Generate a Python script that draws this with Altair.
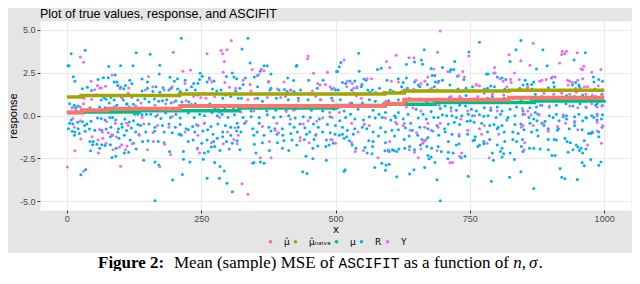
import altair as alt
import pandas as pd

# ---------------- data ----------------
series_labels = ["\u03bc\u0302", "\u03bc\u0302\u2099\u2090\u1d62\u1d65\u2091", "\u03bc", "R", "Y"]
series_colors = ["#F8766D", "#A3A500", "#00BF7D", "#00B0F6", "#E76BF3"]

# step lines (break points)
mu_hat_x = [0, 28, 76, 211, 592, 628, 823, 1000]
mu_hat_y = [0.17, 0.30, 0.39, 0.56, 0.68, 0.92, 1.04, 1.04]
naive_x = [0, 28, 210, 592, 628, 823, 1000]
naive_y = [1.07, 1.17, 1.25, 1.31, 1.42, 1.47, 1.47]
mu_x = [0, 30, 135, 320, 500, 590, 686, 870, 1000]
mu_y = [0.17, 0.20, 0.27, 0.43, 0.58, 0.66, 0.75, 0.85, 0.90]

# R (blue) points
r_points = [
(8,3.6),(34,3.8),(2,2.9),(4,2.9),(78,2.85),(100,2.9),(129,3.65),(123,2.9),(90,2.35),(12,2.25),(15,2.0),(58,2.1),(68,2.2),(77,2.2),(29,1.55),(38,1.65),(46,1.45),(88,1.95),(93,1.95),(95,1.75),(100,1.65),(106,1.55),(109,1.75),(117,2.05),(121,1.85),(56,1.2),(64,0.9),(69,1.05),(73,0.95),(82,1.05),(88,0.9),(102,1.05),(105,0.9),(111,0.65),(116,0.5),(124,0.65),(132,0.9),(5,0.68),(14,0.6),(17,0.45),(10,0.45),(21,0.55),(43,0.45),(52,0.2),(61,0.5),(71,0.45),(79,0.73),(88,0.5),(93,0.6),(112,0.68),(126,0.07),(132,0.07),(8,-0.26),(5,-0.45),(11,-0.49),(20,-0.4),(29,-0.36),(37,-0.49),(45,-0.34),(57,-0.15),(64,-0.17),(71,-0.26),(80,-0.11),(85,-0.11),(91,-0.26),(102,-0.49),(108,-0.21),(116,-0.38),(124,-0.3),(132,-0.53),(3,-0.77),(10,-0.92),(15,-0.96),(21,-0.77),(33,-0.58),(34,-0.92),(42,-0.79),(52,-0.86),(65,-0.86),(73,-0.79),(82,-0.68),(96,-0.77),(103,-0.68),(111,-0.88),(120,-0.73),(128,-0.96),(134,-1.1),(14,-1.15),(23,-1.05),(43,-1.52),(48,-1.7),(49,-1.52),(56,-1.67),(65,-1.7),(81,-1.24),(85,-1.15),(95,-0.96),(97,-1.33),(107,-1.15),(118,-1.43),(124,-1.62),(44,-2.05),(61,-1.9),(71,-1.75),(81,-1.7),(92,-1.9),(107,-2.18),(115,-2.14),(129,-1.95),(84,-2.44),(91,-2.37),(35,-3.15),(26,-3.45),
(213,4.5),(155,3.57),(173,2.93),(172,2.42),(140,2.12),(150,1.95),(192,2.22),(200,1.99),(206,2.14),(220,2.05),(248,2.46),(252,2.29),(247,2.1),(244,1.86),(261,1.95),(265,2.18),(274,2.01),(297,2.27),(308,2.48),(311,2.24),(316,2.14),(140,1.43),(150,1.58),(160,1.39),(166,1.67),(173,1.35),(179,1.62),(190,1.48),(194,1.58),(206,1.54),(211,1.39),(223,1.48),(232,1.67),(236,1.86),(239,1.48),(243,1.2),(256,1.3),(271,1.54),(279,1.43),(287,1.48),(290,1.01),(296,1.2),(305,1.11),(314,1.43),(319,1.01),(145,0.98),(153,0.79),(163,0.96),(171,0.83),(178,0.86),(186,0.92),(194,0.73),(203,0.86),(214,0.79),(227,0.79),(232,0.64),(239,0.68),(247,0.6),(266,0.68),(275,0.45),(284,0.21),(294,0.45),(310,0.45),(140,0.04),(148,0.08),(156,0.08),(166,-0.04),(175,-0.17),(184,0.15),(193,-0.11),(203,0.08),(211,-0.15),(226,0.15),(237,-0.11),(247,0.08),(256,-0.02),(270,0.17),(280,-0.02),(289,0.08),(300,-0.11),(312,0.04),(137,-0.58),(153,-0.49),(164,-0.68),(178,-0.58),(190,-0.49),(202,-0.68),(211,-0.53),(222,-0.77),(234,-0.64),(244,-0.58),(256,-0.45),(268,-0.64),(281,-0.49),(295,-0.58),(305,-0.68),(317,-0.45),(147,-0.96),(163,-0.92),(181,-0.96),(196,-1.01),(211,-1.09),(226,-0.83),(238,-0.96),(253,-0.9),(262,-0.83),(272,-1.09),(290,-0.96),(305,-1.15),(316,-0.9),(141,-1.52),(151,-1.47),(170,-1.52),(181,-1.58),(209,-1.09),(213,-1.15),(226,-1.52),(235,-1.43),(251,-1.62),(261,-1.43),(273,-1.52),(280,-1.33),(290,-1.24),(297,-1.52),(308,-1.62),(317,-1.47),(191,-2.09),(217,-2.09),(243,-1.9),(256,-2.18),(263,-2.09),(269,-1.84),(275,-1.8),(285,-2.03),(302,-1.95),(143,-2.6),(164,-2.7),(171,-2.88),(217,-2.55),(229,-2.7),(254,-2.55),(275,-2.74),(285,-2.97),(293,-3.23),(215,-3.44),(197,-3.76),(261,-3.65),(284,-3.65),(298,-3.95),(308,-4.44),(164,-4.96),
(337,4.5),(326,3.87),(427,2.86),(428,2.93),(341,3.05),(367,2.9),(373,2.9),(360,2.58),(380,2.42),(332,2.18),(328,1.8),(349,2.24),(355,2.33),(375,1.95),(411,2.18),(422,2.03),(450,2.05),(477,2.05),(502,2.56),(322,1.58),(355,1.67),(380,1.58),(378,1.48),(395,1.48),(405,1.52),(410,1.39),(417,1.48),(423,1.39),(435,1.48),(466,1.58),(493,1.54),(500,1.48),(325,1.01),(355,1.01),(364,0.83),(390,1.01),(412,0.92),(431,1.01),(449,0.92),(472,0.92),(493,1.01),(322,0.36),(343,0.26),(360,0.41),(372,0.26),(389,0.3),(408,0.3),(425,0.36),(455,0.3),(476,0.26),(497,0.36),(328,-0.11),(343,-0.08),(358,-0.11),(373,0.04),(385,-0.11),(398,-0.08),(413,-0.02),(425,-0.15),(440,-0.08),(453,-0.11),(470,-0.21),(490,-0.08),(319,-0.68),(331,-0.45),(346,-0.77),(358,-0.45),(376,-0.68),(387,-0.77),(401,-0.77),(415,-0.49),(423,-0.68),(434,-0.49),(443,-0.71),(459,-0.49),(468,-0.68),(485,-0.53),(500,-0.58),(324,-0.96),(348,-1.15),(354,-0.96),(367,-1.15),(380,-0.9),(391,-1.09),(402,-1.15),(417,-1.05),(429,-0.96),(446,-1.09),(452,-0.96),(463,-1.15),(476,-0.96),(490,-1.01),(499,-1.09),(349,-1.67),(364,-1.58),(392,-1.58),(404,-1.47),(419,-1.43),(428,-1.71),(442,-1.39),(460,-1.39),(483,-1.43),(496,-1.62),(322,-1.99),(352,-2.18),(377,-2.03),(401,-1.9),(413,-2.03),(458,-1.9),(467,-1.77),(482,-1.8),(488,-1.71),(348,-2.74),(346,-2.78),(360,-2.7),(367,-2.78),(445,-2.37),(458,-2.52),(483,-2.6),(439,-3.27),(447,-3.38),
(543,3.63),(665,3.83),(660,3.23),(647,3.12),(510,3.08),(507,2.84),(504,2.56),(544,2.58),(578,2.67),(585,2.75),(632,2.99),(662,2.99),(678,2.74),(680,2.33),(536,2.01),(553,2.12),(557,2.05),(549,1.8),(540,1.62),(513,1.92),(527,2.01),(519,1.86),(596,2.05),(617,2.14),(626,1.92),(623,1.67),(632,2.18),(647,1.95),(654,1.77),(671,1.8),(685,2.33),(505,1.48),(530,1.48),(548,1.67),(560,1.48),(564,1.35),(569,1.48),(582,1.58),(602,1.48),(608,1.39),(628,1.48),(634,1.58),(645,1.39),(657,1.67),(675,1.48),(684,1.67),(509,0.92),(530,0.73),(550,0.73),(563,0.92),(574,0.83),(587,0.6),(599,0.86),(617,0.92),(632,0.73),(657,0.96),(671,0.73),(681,0.86),(505,0.45),(516,0.26),(528,0.08),(542,0.36),(570,0.3),(581,0.08),(593,0.17),(610,-0.02),(617,0.17),(635,0.08),(650,0.36),(663,0.08),(678,0.23),(508,-0.3),(519,-0.11),(536,-0.21),(552,-0.26),(563,-0.08),(574,-0.15),(587,-0.11),(603,-0.26),(612,-0.11),(626,-0.21),(640,-0.45),(654,-0.15),(669,-0.21),(683,-0.11),(513,-0.68),(522,-0.86),(536,-0.77),(550,-0.68),(558,-0.77),(570,-0.96),(584,-0.71),(593,-0.96),(605,-0.86),(617,-0.83),(630,-0.71),(643,-0.86),(657,-0.68),(672,-0.77),(681,-0.9),(507,-1.15),(513,-1.09),(521,-1.24),(533,-1.09),(526,-1.47),(516,-1.33),(562,-1.47),(570,-1.52),(580,-1.2),(593,-1.58),(610,-1.2),(628,-1.39),(637,-1.2),(653,-1.15),(661,-1.39),(672,-1.28),(531,-1.71),(538,-1.9),(555,-1.86),(569,-1.8),(592,-2.05),(598,-2.03),(606,-1.99),(614,-2.09),(629,-1.9),(638,-1.8),(647,-1.99),(658,-1.71),(670,-1.8),(679,-1.9),(559,-2.18),(568,-2.22),(600,-2.09),(609,-2.03),(618,-1.95),(672,-2.33),(678,-2.41),(685,-2.74),(666,-3.03),(674,-2.52),(586,-2.78),(594,-2.88),(593,-3.18),(600,-2.84),(573,-3.03),(614,-3.57),(638,-3.4),(646,-3.16),(518,-3.16),(516,-3.25),
(768,4.27),(845,4.36),(748,3.7),(836,3.82),(825,3.14),(722,3.14),(699,2.8),(715,2.67),(720,2.67),(713,2.56),(784,2.42),(781,2.41),(795,2.48),(699,2.05),(686,1.95),(692,1.99),(727,2.29),(739,2.09),(801,2.24),(810,2.18),(817,2.1),(849,1.77),(853,2.05),(865,1.8),(857,1.82),(689,1.48),(713,1.77),(728,1.54),(743,1.58),(755,1.67),(777,1.54),(783,1.58),(789,1.71),(796,1.67),(815,1.54),(843,1.58),(866,1.54),(692,0.96),(701,0.83),(712,1.05),(722,0.92),(734,1.01),(743,1.17),(751,0.92),(770,0.83),(783,1.01),(792,1.11),(814,1.01),(831,1.01),(845,0.86),(864,0.92),(695,0.41),(704,0.55),(715,0.45),(725,0.3),(731,0.6),(742,0.55),(753,0.36),(762,0.26),(777,0.45),(789,0.3),(801,0.49),(810,0.26),(825,0.36),(837,0.49),(849,0.26),(862,0.45),(691,-0.11),(699,0.04),(707,-0.02),(717,-0.02),(725,-0.11),(735,-0.02),(747,0.08),(755,-0.02),(768,0.04),(776,-0.04),(784,-0.02),(799,-0.11),(807,0.08),(821,-0.11),(834,-0.02),(849,0.08),(860,-0.11),(689,-0.58),(703,-0.77),(710,-0.49),(721,-0.4),(731,-0.53),(745,-0.34),(751,-0.3),(758,-0.4),(772,-0.45),(787,-0.58),(795,-0.53),(803,-0.68),(810,-0.58),(819,-0.26),(834,-0.53),(845,-0.49),(862,-0.45),(692,-1.15),(704,-0.96),(717,-1.09),(730,-1.2),(746,-1.09),(760,-1.24),(783,-0.96),(801,-0.77),(814,-0.96),(830,-0.96),(840,-1.05),(851,-0.83),(865,-0.96),(710,-1.52),(725,-1.71),(730,-1.65),(756,-1.47),(759,-1.43),(768,-1.71),(776,-1.52),(787,-1.39),(801,-1.71),(815,-1.52),(830,-1.39),(837,-1.52),(848,-1.39),(691,-1.8),(697,-2.09),(710,-2.14),(719,-2.18),(734,-2.46),(741,-2.37),(765,-1.8),(776,-1.65),(792,-2.18),(807,-2.09),(810,-1.9),(813,-2.22),(825,-2.18),(810,-2.41),(846,-1.8),(849,-2.09),(861,-1.9),(709,-2.52),(794,-2.6),(833,-2.56),(689,-3.74),(747,-3.53),(790,-3.82),(824,-3.59),(845,-3.27),(869,-4.25),(695,-4.96),
(886,3.83),(965,3.65),(944,3.23),(894,2.9),(874,2.71),(869,1.95),(902,2.18),(907,1.67),(941,1.77),(947,1.92),(953,1.77),(980,2.24),(981,1.95),(990,2.1),(997,1.99),(906,1.92),(954,1.67),(997,1.48),(983,1.54),(896,1.62),(918,1.43),(872,1.24),(884,1.11),(900,1.01),(915,1.05),(930,1.17),(945,1.11),(960,1.2),(984,1.11),(996,1.24),(874,0.49),(884,0.6),(898,0.49),(911,0.6),(929,0.68),(942,0.55),(955,0.68),(966,0.49),(984,0.6),(996,0.55),(987,0.68),(872,0.17),(877,0.08),(898,-0.02),(911,0.08),(924,-0.08),(930,-0.02),(945,-0.08),(953,0.08),(966,-0.11),(977,-0.02),(987,0.08),(997,0.04),(869,-0.21),(875,-0.3),(884,-0.45),(890,-0.34),(905,-0.11),(916,-0.3),(930,-0.21),(945,-0.4),(960,-0.3),(967,-0.15),(981,-0.11),(987,-0.26),(995,-0.21),(875,-0.86),(888,-0.58),(896,-0.77),(913,-0.86),(915,-0.77),(935,-0.77),(945,-0.58),(959,-0.83),(971,-1.05),(978,-0.96),(990,-0.96),(996,-0.68),(877,-1.2),(896,-1.39),(907,-1.39),(911,-1.43),(927,-1.33),(931,-1.52),(937,-1.58),(948,-1.71),(963,-1.47),(975,-1.05),(978,-1.01),(990,-1.24),(869,-1.9),(881,-1.95),(896,-1.99),(903,-2.33),(909,-2.33),(933,-2.14),(942,-1.99),(951,-1.84),(954,-2.03),(960,-2.18),(966,-1.95),(957,-1.9),(975,-2.56),(994,-2.7),(990,-2.9),(959,-2.74),(963,-2.93),(918,-3.08),(921,-3.59),(927,-3.68),(950,-3.72),
]

# Y (pink) points
y_points = [
(25,3.4),(31,3.1),(84,2.35),(45,2.0),(52,1.5),(61,1.6),(57,1.75),(64,1.6),(72,1.7),(99,1.55),(115,1.6),(24,1.15),(32,1.0),(37,1.15),(46,0.95),(103,1.05),(114,1.3),(121,1.05),(128,0.55),(12,0.45),(17,0.3),(25,0.5),(31,0.68),(92,0.4),(96,0.25),(11,-0.17),(25,-0.3),(74,-0.36),(90,-0.45),(111,-0.43),(114,-0.58),(14,-0.68),(61,-0.81),(66,-0.96),(77,-1.0),(84,-1.1),(26,-1.37),(47,-1.24),(58,-1.43),(67,-1.33),(73,-1.62),(92,-1.24),(102,-1.7),(112,-1.77),(122,-1.65),(15,-2.05),(59,-2.18),(86,-2.0),(98,-1.84),(109,-2.0),(1,-3.0),(31,-3.25),(100,-2.95),
(198,3.68),(306,4.36),(298,3.83),(287,3.78),(290,3.6),(261,3.6),(293,3.14),(216,2.58),(230,2.65),(152,2.27),(266,2.09),(270,1.95),(291,2.52),(294,1.92),(303,1.64),(314,1.58),(146,1.48),(160,1.67),(181,1.48),(196,1.67),(220,1.86),(236,1.11),(249,1.05),(259,1.01),(275,1.11),(138,0.73),(164,0.6),(184,0.68),(199,0.79),(222,0.86),(281,0.45),(306,0.26),(140,-0.11),(169,0.04),(196,-0.06),(284,-0.11),(143,-0.49),(169,-0.58),(190,-0.68),(241,-0.53),(256,-0.45),(313,-0.71),(135,-1.15),(160,-1.01),(220,-0.96),(244,-1.15),(299,-0.96),(161,-1.52),(182,-1.67),(269,-1.58),(291,-1.65),(311,-1.39),(317,-1.65),(150,-2.0),(193,-2.27),(243,-1.95),(247,-2.18),(173,-2.97),
(448,3.3),(449,3.46),(345,2.67),(362,2.71),(367,2.61),(357,2.37),(459,2.46),(485,2.52),(328,2.05),(341,1.8),(376,1.99),(404,1.95),(467,1.86),(471,1.77),(481,1.8),(490,1.67),(343,1.43),(392,1.54),(416,1.48),(457,1.43),(497,1.58),(337,0.92),(350,0.98),(373,1.05),(398,1.05),(407,1.11),(431,0.86),(463,1.11),(473,0.92),(495,0.86),(324,0.21),(348,0.26),(408,0.23),(422,0.3),(489,0.17),(334,-0.34),(364,-0.64),(391,-0.45),(416,-0.21),(440,-0.49),(449,-0.3),(465,-0.34),(476,-0.15),(494,-0.11),(319,-1.15),(388,-0.86),(394,-1.01),(434,-1.28),(464,-1.09),(491,-1.39),(377,-1.52),(434,-1.47),(451,-1.58),(494,-1.43),(500,-1.62),(360,-2.46),(380,-2.46),(326,-3.97),(337,-4.59),
(613,3.5),(637,3.36),(646,3.36),(595,3.14),(601,2.8),(516,3.23),(683,2.71),(522,1.99),(531,1.86),(559,2.14),(567,2.14),(534,1.58),(540,1.67),(521,1.67),(604,1.99),(617,1.95),(659,1.86),(666,1.99),(650,2.05),(672,2.24),(519,1.24),(534,1.33),(539,1.15),(548,1.01),(575,1.35),(590,1.35),(623,1.39),(646,1.54),(679,1.58),(527,0.73),(584,0.6),(594,0.83),(638,1.01),(667,0.86),(507,0.17),(632,0.49),(644,0.45),(659,0.26),(530,-0.45),(554,-0.49),(593,-0.15),(612,-0.4),(628,-0.45),(672,-0.45),(553,-0.53),(563,-0.58),(542,-0.96),(614,-0.49),(626,-0.58),(639,-0.86),(651,-1.01),(666,-0.68),(678,-0.86),(530,-1.58),(663,-1.58),(666,-1.47),(669,-1.39),(601,-1.52),(537,-2.09),(552,-2.03),(599,-1.99),(637,-1.99),(647,-2.14),(659,-1.95),(662,-1.62),(579,-2.46),(654,-2.46),
(695,4.92),(868,4.21),(690,3.68),(748,3.46),(823,3.53),(845,3.18),(709,2.56),(737,2.56),(796,2.8),(797,2.48),(833,2.48),(862,2.93),(691,1.9),(729,2.33),(740,2.24),(762,1.8),(768,1.73),(806,2.14),(812,1.99),(826,2.1),(827,1.92),(842,2.1),(857,1.58),(715,1.11),(762,1.77),(779,1.48),(819,1.67),(849,1.48),(858,1.67),(731,1.11),(765,1.11),(777,1.3),(792,1.24),(813,1.2),(693,0.6),(715,0.26),(746,0.26),(789,0.45),(801,0.26),(848,0.41),(858,0.26),(695,-0.45),(733,-0.21),(759,-0.02),(852,0.08),(864,0.04),(691,-0.68),(746,-0.86),(768,-0.77),(777,-0.58),(849,-0.58),(868,-0.58),(730,-1.09),(772,-1.09),(804,-1.09),(846,-0.68),(782,-1.62),(852,-1.58),(689,-2.03),(735,-2.18),(786,-2.46),(851,-1.99),(713,-2.74),(718,-2.74),(731,-2.37),
(922,3.74),(927,3.6),(921,3.55),(950,3.65),(930,3.74),(917,3.05),(957,2.71),(962,2.86),(960,2.67),(977,2.52),(994,2.67),(880,1.99),(884,2.05),(892,2.1),(904,2.24),(909,2.24),(932,2.05),(936,1.99),(941,1.92),(951,2.05),(960,2.14),(947,1.58),(956,1.58),(933,1.77),(963,1.67),(969,1.67),(989,1.73),(888,1.3),(906,1.24),(921,1.3),(936,1.24),(948,1.35),(966,1.24),(978,1.2),(996,1.17),(881,0.6),(898,0.55),(936,0.55),(951,0.45),(967,0.45),(977,0.68),(987,0.49),(997,0.6),(879,0.04),(924,0.04),(987,-0.02),(887,-0.49),(913,-0.64),(928,-0.45),(945,-0.34),(987,-0.4),(997,-0.58),(896,-0.92),(951,-0.83),(987,-0.9),(997,-0.64),(995,-1.62),(969,-1.71),
]

x_ticks = [0, 250, 500, 750, 1000]
y_ticks = [-5.0, -2.5, 0.0, 2.5, 5.0]

# ---------------- build tables ----------------
pts = pd.DataFrame(
    [{"x": a, "y": b, "series": "R"} for a, b in r_points]
    + [{"x": a, "y": b, "series": "Y"} for a, b in y_points]
)
mu_hat_df = pd.DataFrame({"x": mu_hat_x, "y": mu_hat_y})
naive_df = pd.DataFrame({"x": naive_x, "y": naive_y})
mu_df = pd.DataFrame({"x": mu_x, "y": mu_y})
one = pd.DataFrame({"k": [0]})

W, H = 591, 189
xs = alt.Scale(domain=[-50, 1050], nice=False, zero=False)
ys = alt.Scale(domain=[-5.5, 5.5], nice=False, zero=False)

x_enc = alt.X("x:Q", scale=xs, title="x",
              axis=alt.Axis(values=x_ticks, format="d"))
y_enc = alt.Y("y:Q", scale=ys, title="response",
              axis=alt.Axis(values=y_ticks,
                            labelExpr="replace(format(datum.value, '.1f'), '\u2212', '-')"))


def step_line(df, color, width=3.5):
    return alt.Chart(df).mark_line(
        interpolate="step-after", strokeWidth=width, color=color, strokeCap="butt"
    ).encode(x=x_enc, y=y_enc)


points = alt.Chart(pts).mark_circle(size=9, opacity=1).encode(
    x=x_enc,
    y=y_enc,
    color=alt.Color(
        "series:N",
        scale=alt.Scale(domain=series_labels, range=series_colors),
        legend=alt.Legend(
            orient="none", legendX=226, legendY=216, direction="horizontal",
            title=None, symbolType="circle", symbolSize=13,
            labelFontSize=9, labelFont="DejaVu Sans", labelColor="black",
            labelOffset=9, columnPadding=1, labelLimit=0,
        ),
    ),
    order=alt.Order("series:N"),
)

# lines drawn over the points, as in the reference
lines = [
    step_line(mu_df, series_colors[2]),
    step_line(naive_df, series_colors[1]),
    step_line(mu_hat_df, series_colors[0], 4),
]

# caption band (white) below the grey plot background
band = alt.Chart(one).mark_rect(color="white").encode(
    x=alt.value(-45), x2=alt.value(650), y=alt.value(232), y2=alt.value(320)
)


def cap(text, page_x, font="Liberation Serif", size=17, weight="normal", style="normal"):
    return alt.Chart(one).mark_text(
        text=text, align="left", baseline="alphabetic", font=font,
        fontSize=size, fontWeight=weight, fontStyle=style, color="black"
    ).encode(x=alt.value(page_x - 40), y=alt.value(247))


caption = [
    cap("Figure 2:", 98, weight="bold"),
    cap("Mean (sample) MSE of", 174),
    cap("ASCIFIT", 338.5, font="Liberation Mono", size=14.5),
    cap("as a function of", 403.7),
    cap("n", 513.3, style="italic"),
    cap(",", 521.8),
    cap("\u03c3", 529, style="italic"),
    cap(".", 538.5),
]

chart = alt.layer(points, *lines, band, *caption).properties(
    width=W, height=H,
    autosize=alt.AutoSizeParams(type="none"),
    padding={"left": 32, "top": 13, "right": 1, "bottom": 61},
    background="#E5E5E5",
    title=alt.TitleParams(
        "Plot of true values, response, and ASCIFIT",
        anchor="start", frame="group", fontSize=12.5, font="Liberation Sans",
        fontWeight="normal", color="black", offset=1,
    ),
).configure_view(
    fill="white", stroke="transparent"
).configure_axis(
    domain=False, tickColor="#333333", tickSize=3, tickWidth=1,
    gridColor="#EBEBEB", gridWidth=1.1,
    labelFont="Liberation Sans", labelFontSize=9, labelColor="#4D4D4D",
    titleFont="Liberation Sans", titleFontSize=11, titleColor="black",
    titleFontWeight="normal",
).configure_axisX(
    labelPadding=1, titlePadding=0
).configure_axisY(
    labelPadding=2, titlePadding=1
)

chart.save("out.html", embed_options={"renderer": "svg", "actions": False})
